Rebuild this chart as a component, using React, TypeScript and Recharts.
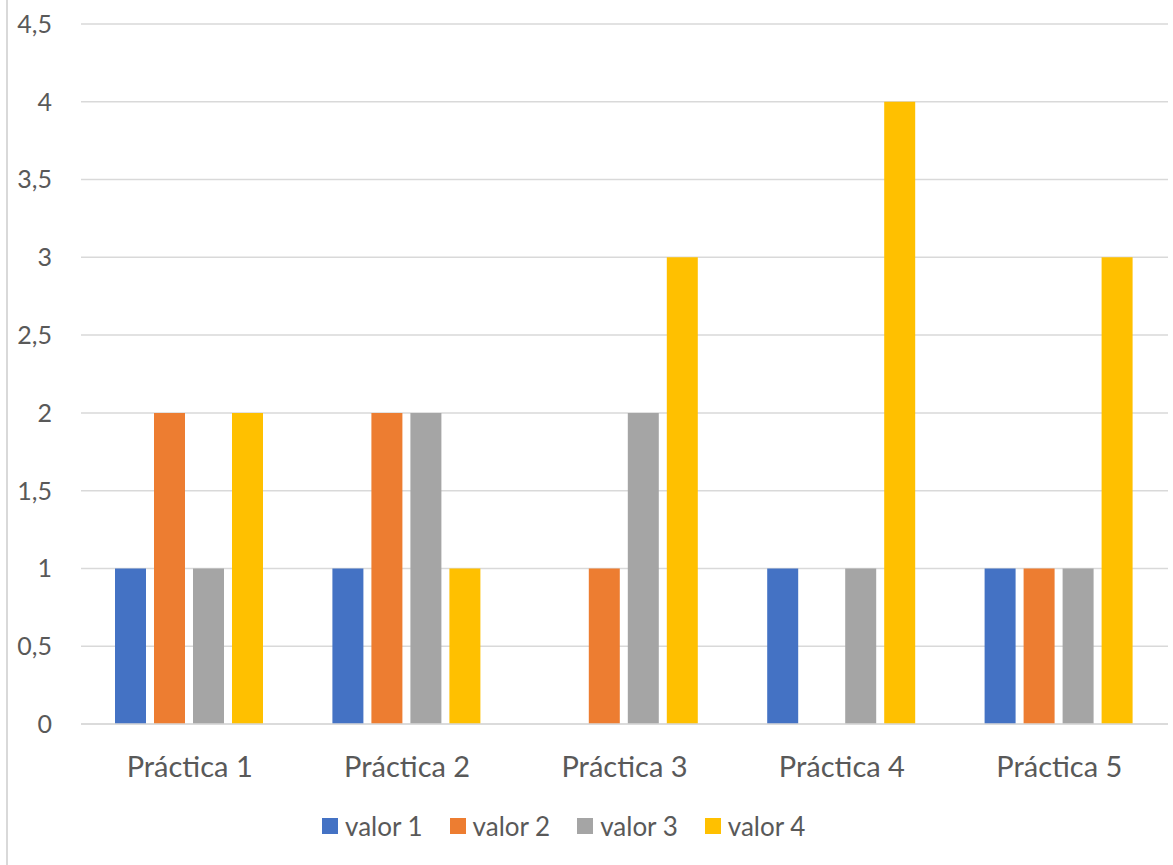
import { BarChart, Bar, XAxis, YAxis, CartesianGrid } from "recharts";

const categories = ["Práctica 1", "Práctica 2", "Práctica 3", "Práctica 4", "Práctica 5"];
const valor1 = [1, 1, 0, 1, 1];
const valor2 = [2, 2, 1, 0, 1];
const valor3 = [1, 2, 2, 1, 1];
const valor4 = [2, 1, 3, 4, 3];
const yTicks = [0, 0.5, 1, 1.5, 2, 2.5, 3, 3.5, 4, 4.5];

const SERIES = [
  { key: "valor1", name: "valor 1", color: "#4472C4" },
  { key: "valor2", name: "valor 2", color: "#ED7D31" },
  { key: "valor3", name: "valor 3", color: "#A5A5A5" },
  { key: "valor4", name: "valor 4", color: "#FFC000" },
];

const data = categories.map((c, i) => ({
  label: c,
  valor1: valor1[i],
  valor2: valor2[i],
  valor3: valor3[i],
  valor4: valor4[i],
}));

const FONT = "Lato, 'Open Sans', sans-serif";
const TEXT = "#595959";
const GRID = "#d9d9d9";

function LegendRow() {
  return (
    <div style={{
      position: "absolute", left: 322, top: 806,
      display: "flex", gap: "27px",
      fontFamily: FONT, fontSize: 26, color: TEXT, lineHeight: "40px",
    }}>
      {SERIES.map((s) => (
        <div key={s.key} style={{ display: "flex", alignItems: "center", gap: "7px" }}>
          <span style={{ display: "inline-block", width: 16, height: 16, background: s.color }} />
          <span>{s.name}</span>
        </div>
      ))}
    </div>
  );
}

export default function App() {
  return (
    <div style={{ position: "absolute", left: 0, top: 0, width: 1173, height: 865, background: "#fff", fontFamily: FONT }}>
      {/* chart frame edge */}
      <div style={{ position: "absolute", left: 6, top: 0, width: 2, height: 865, background: GRID }} />
      <BarChart
        width={1173}
        height={865}
        data={data}
        margin={{ top: 24, right: 5, left: 0, bottom: 111 }}
        barCategoryGap={34}
        barGap={8}
      >
        <CartesianGrid vertical={false} stroke={GRID} strokeWidth={1.5} />
        <XAxis
          dataKey="label"
          axisLine={{ stroke: GRID, strokeWidth: 1.5 }}
          tickLine={false}
          tickMargin={26}
          tick={{ fontSize: 29, fill: TEXT, fontFamily: FONT }}
        />
        <YAxis
          width={81}
          domain={[0, 4.5]}
          ticks={yTicks}
          axisLine={false}
          tickLine={false}
          tickMargin={23}
          tick={{ fontSize: 25, fill: TEXT, fontFamily: FONT }}
          tickFormatter={(v: number) => String(v).replace(".", ",")}
        />
        {SERIES.map((s) => (
          <Bar key={s.key} dataKey={s.key} name={s.name} fill={s.color} isAnimationActive={false} />
        ))}
      </BarChart>
      <LegendRow />
    </div>
  );
}
